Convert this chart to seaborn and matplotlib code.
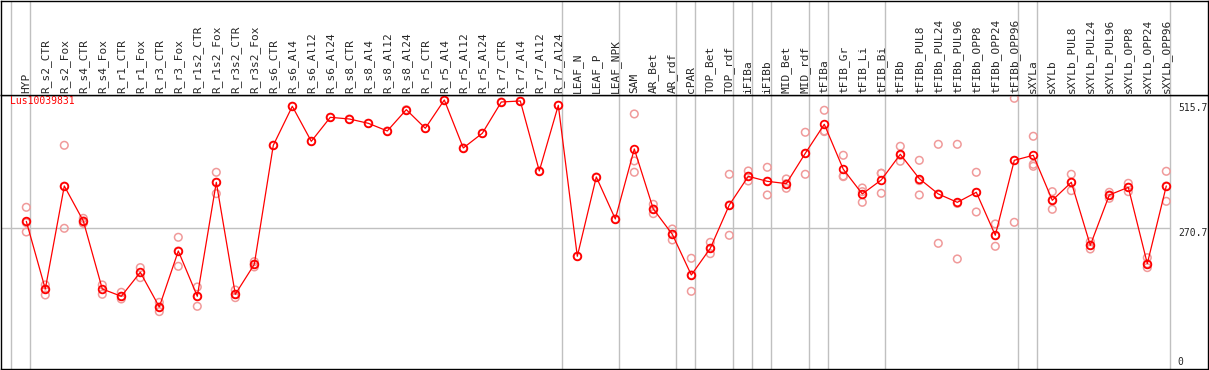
import numpy as np
import pandas as pd
import matplotlib
matplotlib.use("Agg")
import matplotlib.pyplot as plt
import matplotlib.transforms as mtransforms
import seaborn as sns

# sample names, left to right
samples = [
    "HYP", "R_s2_CTR", "R_s2_Fox", "R_s4_CTR", "R_s4_Fox", "R_r1_CTR", "R_r1_Fox",
    "R_r3_CTR", "R_r3_Fox", "R_r1s2_CTR", "R_r1s2_Fox", "R_r3s2_CTR", "R_r3s2_Fox",
    "R_s6_CTR", "R_s6_Al4", "R_s6_Al12", "R_s6_Al24", "R_s8_CTR", "R_s8_Al4",
    "R_s8_Al12", "R_s8_Al24", "R_r5_CTR", "R_r5_Al4", "R_r5_Al12", "R_r5_Al24",
    "R_r7_CTR", "R_r7_Al4", "R_r7_Al12", "R_r7_Al24", "LEAF_N", "LEAF_P", "LEAF_NPK",
    "SAM", "AR_Bet", "AR_rdf", "cPAR", "TOP_Bet", "TOP_rdf", "iFIBa", "iFIBb",
    "MID_Bet", "MID_rdf", "tFIBa", "tFIB_Gr", "tFIB_Li", "tFIB_Bi", "tFIBb",
    "tFIBb_PUL8", "tFIBb_PUL24", "tFIBb_PUL96", "tFIBb_OPP8", "tFIBb_OPP24",
    "tFIBb_OPP96", "sXYLa", "sXYLb", "sXYLb_PUL8", "sXYLb_PUL24", "sXYLb_PUL96",
    "sXYLb_OPP8", "sXYLb_OPP24", "sXYLb_OPP96",
]

# mean expression per sample
means = [
    284.0, 155.1, 351.3, 284.7, 155.1, 141.2, 186.9, 120.9, 227.5, 141.2,
    358.3, 145.0, 202.1, 428.8, 503.1, 436.4, 482.1, 478.9, 470.7, 456.1,
    496.7, 461.2, 515.1, 423.7, 451.7, 511.3, 513.2, 379.9, 505.0, 217.4,
    368.5, 288.5, 421.8, 307.5, 259.3, 181.8, 232.6, 315.1, 369.7, 360.2,
    355.8, 413.6, 468.8, 383.1, 336.1, 362.8, 411.7, 365.3, 336.1, 320.2,
    339.3, 257.4, 400.2, 409.8, 324.0, 358.3, 238.3, 334.2, 348.8, 203.4,
    351.3,
]

# individual replicates
replicates = [
    [310.7, 281.5, 263.7], [162.8, 155.1, 143.7], [428.8, 351.0, 270.7],
    [289.7, 284.7, 280.2], [162.8, 145.0], [148.8, 141.2, 136.1],
    [195.8, 176.7], [129.7, 120.9, 112.0], [253.6, 227.5, 198.3],
    [158.9, 141.2, 122.1], [377.4, 358.3, 336.7], [153.2, 145.0, 138.6],
    [207.2, 202.1, 197.1], [428.8], [503.1], [436.4], [482.1], [478.9],
    [470.7], [456.1], [496.7], [461.2], [515.1], [423.7], [451.7], [511.3],
    [513.2], [379.9], [505.0], [217.4], [368.5], [288.5],
    [488.5, 399.0, 377.4], [316.4, 307.5, 298.6], [269.4, 259.3, 248.5],
    [213.6, 181.8, 150.7], [244.0, 232.6, 222.4], [373.6, 315.1, 257.4],
    [379.9, 369.7, 360.9], [386.9, 360.2, 334.2], [364.7, 355.8, 346.9],
    [453.6, 413.6, 373.6], [495.5, 456.1, 454.9], [409.8, 370.4, 369.1],
    [347.5, 340.5, 320.2], [375.5, 375.5, 337.4], [426.9, 409.8, 398.4],
    [400.2, 361.5, 334.2], [430.7, 336.0, 242.1], [430.7, 318.0, 212.3],
    [377.4, 339.0, 301.8], [279.0, 257.0, 236.4], [518.3, 400.0, 282.1],
    [446.0, 392.6, 388.8], [340.5, 324.6, 306.9], [373.6, 358.3, 342.4],
    [245.3, 238.3, 231.3], [339.3, 334.2, 327.8], [356.4, 348.8, 340.5],
    [214.8, 203.4, 195.8], [379.3, 351.3, 322.1],
]

# last sample of each group (grey separators), -1 = before the first
group_ends = [-1, 0, 28, 31, 34, 35, 37, 38, 39, 41, 42, 45, 52, 53, 60]

gene = "Lus10039831"
axis_marks = [515.7, 270.7, 0]

idx = np.arange(len(samples))
rep_df = pd.DataFrame(
    [(i, v) for i, vals in enumerate(replicates) for v in vals],
    columns=["idx", "value"],
)

sns.set_style("white")
plt.rcParams["font.family"] = ["DejaVu Sans Mono"]

W, H = 1209, 370
fig = plt.figure(figsize=(W / 100, H / 100), dpi=100)
ax = fig.add_axes([1 / W, 1 / H, 1207 / W, 274 / H])
axh = fig.add_axes([1 / W, 275 / H, 1207 / W, 94 / H])

xlo = -25.3 / 19
xhi = xlo + 1207 / 19
ylo, yhi = 2.7, 524.6

grey = "#c0c0c0"
for g in group_ends:
    for a in (ax, axh):
        a.axvline(g + 0.21, color=grey, lw=1, zorder=0)

last_sep = group_ends[-1] + 0.21
ax.axhline(270.7, xmin=0, xmax=(last_sep - xlo) / (xhi - xlo), color=grey, lw=1, zorder=0)

sns.scatterplot(data=rep_df, x="idx", y="value", ax=ax, marker="o", s=30,
                facecolors="none", edgecolors="#f09a9a", linewidths=1.1,
                zorder=3, legend=False)
sns.lineplot(x=idx, y=means, ax=ax, color="red", lw=0.9, marker="o", ms=5.5,
             mfc="none", mec="red", mew=1.3, zorder=4)

ax.set_xlim(xlo, xhi)
ax.set_ylim(ylo, yhi)
axh.set_xlim(xlo, xhi)
axh.set_ylim(0, 1)
for a in (ax, axh):
    a.set_xticks([])
    a.set_yticks([])
    a.set_xlabel("")
    a.set_ylabel("")
    for s in a.spines.values():
        s.set_color("black")
        s.set_linewidth(1)

# sample labels in the header
trans_h = mtransforms.blended_transform_factory(axh.transData, axh.transAxes)
for i, lab in enumerate(samples):
    axh.text(i, 0.02, lab, rotation=90, ha="center", va="bottom",
             fontsize=8, transform=trans_h)

ax.text(0.0075, 0.997, gene, color="red", fontsize=7, ha="left", va="top",
        transform=ax.transAxes)

# value marks on the right
for m in axis_marks:
    frac = np.clip((m - ylo) / (yhi - ylo), 0.045, 0.97)
    ax.text(0.975, frac, f"{m:g}", fontsize=7, ha="left", va="top",
            transform=ax.transAxes)

fig.savefig("out.png", dpi=100)
